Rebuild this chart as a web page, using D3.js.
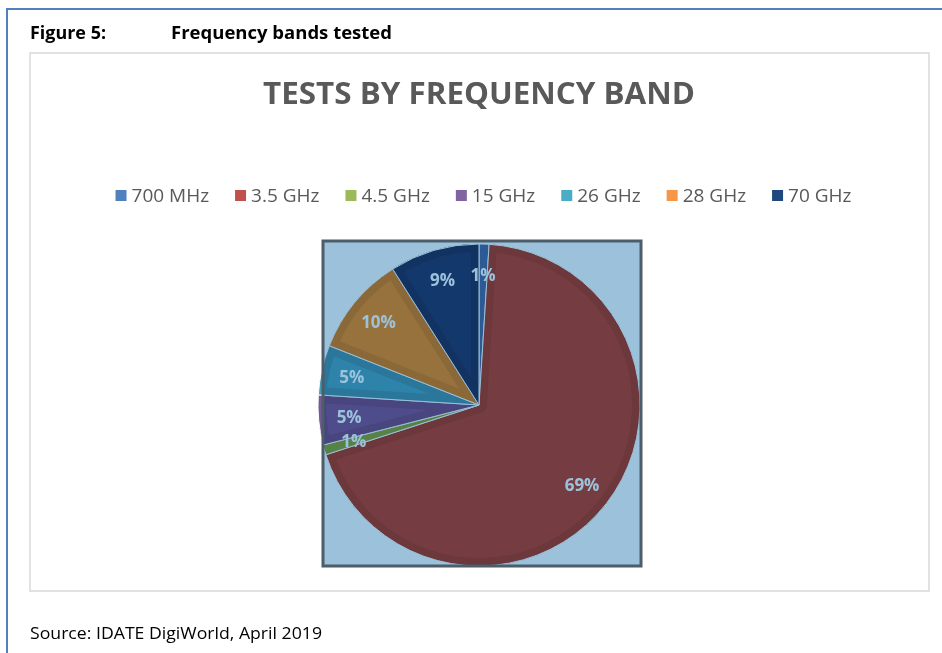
<!DOCTYPE html>
<html>
<head>
<meta charset="utf-8">
<script src="https://cdn.jsdelivr.net/npm/d3@7"></script>
<style>
  body { margin: 0; background: #fff; }
  svg { display: block; font-family: "Open Sans", sans-serif; }
</style>
</head>
<body>
<div id="chart"></div>
<script>
// Data
const bands = ["700 MHz", "3.5 GHz", "4.5 GHz", "15 GHz", "26 GHz", "28 GHz", "70 GHz"];
const shares = [1, 69, 1, 5, 5, 10, 9];
const colours = ["#4f81bd", "#c0504d", "#9bbb59", "#8064a2", "#4bacc6", "#f79646", "#1f497d"];

const W = 942, H = 653;

const svg = d3.select("#chart")
  .append("svg")
  .attr("width", W)
  .attr("height", H);

svg.append("rect").attr("width", W).attr("height", H).attr("fill", "#fff");

// Page frame (blue rule on top and left)
svg.append("path")
  .attr("d", `M7,${H} L7,9 L${W},9`)
  .attr("fill", "none")
  .attr("stroke", "#4f81bd")
  .attr("stroke-width", 2);

// Figure heading
svg.append("text")
  .attr("x", 30).attr("y", 39)
  .style("font-weight", "bold").style("font-size", "17px")
  .attr("textLength", 76).attr("lengthAdjust", "spacingAndGlyphs")
  .attr("fill", "#000")
  .text("Figure 5:");
svg.append("text")
  .attr("x", 171).attr("y", 39)
  .style("font-weight", "bold").style("font-size", "17px")
  .attr("textLength", 221).attr("lengthAdjust", "spacingAndGlyphs")
  .attr("fill", "#000")
  .text("Frequency bands tested");

// Chart area
const box = { x: 30, y: 53, w: 899, h: 538 };
svg.append("rect")
  .attr("x", box.x).attr("y", box.y)
  .attr("width", box.w).attr("height", box.h)
  .attr("fill", "#fff")
  .attr("stroke", "#d9d9d9")
  .attr("stroke-width", 1.5);

svg.append("text")
  .attr("x", 263).attr("y", 104)
  .style("font-weight", "bold").style("font-size", "30px")
  .attr("textLength", 432).attr("lengthAdjust", "spacingAndGlyphs")
  .attr("fill", "#595959")
  .text("TESTS BY FREQUENCY BAND");

// Colour scale
const color = d3.scaleOrdinal().domain(bands).range(colours);

// Legend, centred under the title
const legend = svg.append("g");
const items = legend.selectAll("g")
  .data(bands)
  .join("g");
items.append("rect")
  .attr("y", -12).attr("width", 11).attr("height", 11)
  .attr("fill", (d) => color(d));
items.append("text")
  .attr("x", 16).attr("y", 0)
  .style("font-size", "19px")
  .attr("fill", "#595959")
  .text((d) => d);

const gap = 26;
let cx = 0;
items.each(function () {
  const g = d3.select(this);
  const w = 16 + g.select("text").node().getComputedTextLength();
  g.attr("transform", `translate(${cx},0)`);
  cx += w + gap;
});
const legendWidth = cx - gap;
legend.attr("transform", `translate(${483.5 - legendWidth / 2},202)`);

// Pie
const center = { x: 479, y: 405 };
const radius = 161;
const plot = { x: 323, y: 241, w: 318, h: 325 };

const pie = d3.pie().sort(null).value((d) => d.value);
const arcs = pie(bands.map((b, i) => ({ band: b, value: shares[i] })));
const arc = d3.arc().innerRadius(0).outerRadius(radius);
const labelArc = d3.arc().innerRadius(radius * 0.81).outerRadius(radius * 0.81);

const pieG = svg.append("g")
  .attr("transform", `translate(${center.x},${center.y})`);

const defs = svg.append("defs");
arcs.forEach((d, i) => {
  defs.append("clipPath")
    .attr("id", "slice-clip-" + i)
    .append("path")
    .attr("d", arc(d));
});

const slices = pieG.selectAll("g.slice")
  .data(arcs)
  .join("g")
  .attr("class", "slice");

slices.append("path")
  .attr("d", arc)
  .attr("fill", (d) => color(d.data.band));

// darker inner band along each slice edge
slices.append("path")
  .attr("d", arc)
  .attr("fill", "none")
  .attr("clip-path", (d, i) => `url(#slice-clip-${i})`)
  .attr("stroke", (d) => d3.color(color(d.data.band)).darker(0.25))
  .attr("stroke-width", 16)
  .attr("stroke-linejoin", "round");

slices.append("path")
  .attr("d", arc)
  .attr("fill", "none")
  .attr("stroke", "#fff")
  .attr("stroke-width", 1);

pieG.selectAll("text")
  .data(arcs)
  .join("text")
  .attr("transform", (d) => `translate(${labelArc.centroid(d)})`)
  .attr("text-anchor", "middle")
  .attr("dy", "0.35em")
  .style("font-weight", "bold").style("font-size", "17px")
  .attr("fill", "#fff")
  .text((d) => d.data.value + "%");

// Plot area: tinted overlay multiplied over the pie
svg.append("rect")
  .attr("x", plot.x).attr("y", plot.y)
  .attr("width", plot.w).attr("height", plot.h)
  .attr("fill", "#9cc2db")
  .style("mix-blend-mode", "multiply");
svg.append("rect")
  .attr("x", plot.x).attr("y", plot.y)
  .attr("width", plot.w).attr("height", plot.h)
  .attr("fill", "none")
  .attr("stroke", "#4d5d69")
  .attr("stroke-width", 3);

// Source
svg.append("text")
  .attr("x", 30).attr("y", 639)
  .style("font-size", "16px")
  .attr("textLength", 292).attr("lengthAdjust", "spacingAndGlyphs")
  .attr("fill", "#000")
  .text("Source: IDATE DigiWorld, April 2019");
</script>
</body>
</html>
